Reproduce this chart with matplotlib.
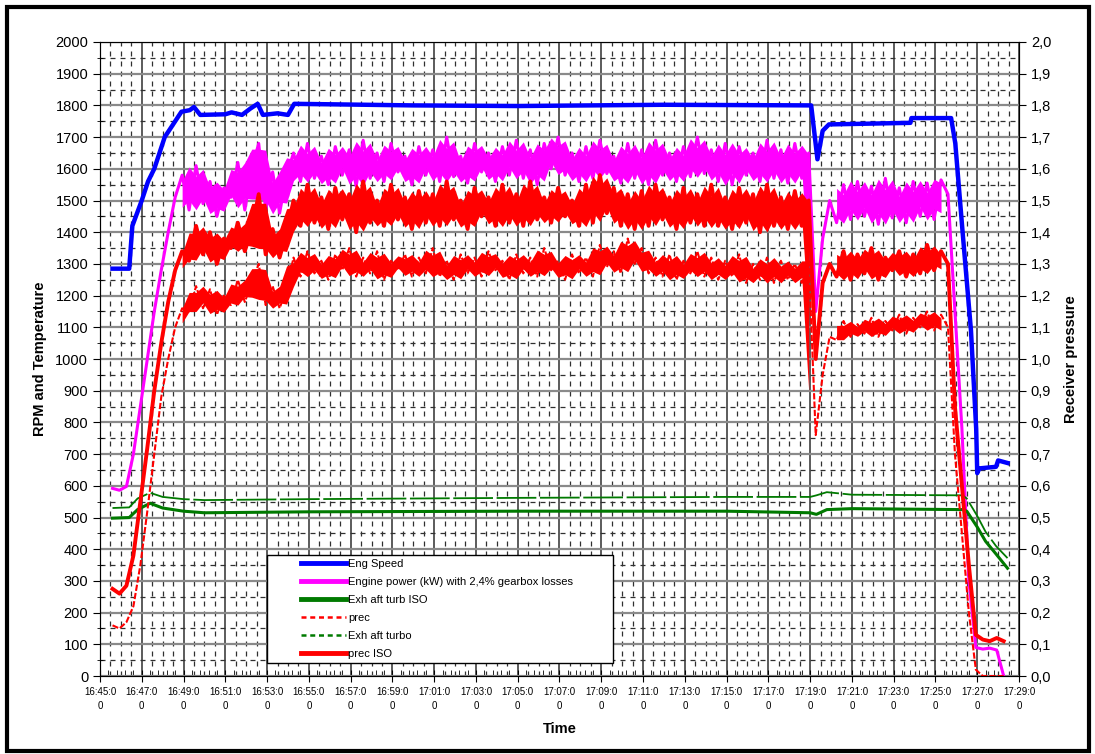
import numpy as np
import matplotlib
matplotlib.use('Agg')
import matplotlib.pyplot as plt
from matplotlib.lines import Line2D
from matplotlib.legend_handler import HandlerLine2D
from matplotlib.patches import Rectangle

plt.rcParams['font.family'] = ['Liberation Sans', 'DejaVu Sans']

# time axis: minutes after 16:45:00
tick_labels = ['16:45:0\n0', '16:47:0\n0', '16:49:0\n0', '16:51:0\n0', '16:53:0\n0',
               '16:55:0\n0', '16:57:0\n0', '16:59:0\n0', '17:01:0\n0', '17:03:0\n0',
               '17:05:0\n0', '17:07:0\n0', '17:09:0\n0', '17:11:0\n0', '17:13:0\n0',
               '17:15:0\n0', '17:17:0\n0', '17:19:0\n0', '17:21:0\n0', '17:23:0\n0',
               '17:25:0\n0', '17:27:0\n0', '17:29:0\n0']
press_labels = ['0,0', '0,1', '0,2', '0,3', '0,4', '0,5', '0,6', '0,7', '0,8', '0,9', '1,0',
                '1,1', '1,2', '1,3', '1,4', '1,5', '1,6', '1,7', '1,8', '1,9', '2,0']

# Eng Speed (rpm)
t_speed = [0.6, 1.4, 1.55, 2.0, 2.3, 2.6, 3.1, 3.3, 3.9, 4.3,
           4.5, 4.8, 6.0, 6.3, 6.8, 7.2, 7.55, 7.8, 8.5, 9.0,
           9.3, 15.0, 20.0, 27.0, 34.05, 34.35, 34.6, 34.9, 38.8, 38.85,
           40.75, 40.95, 41.3, 41.7, 41.95, 42.0, 42.1, 42.9, 43.0, 43.45]
eng_speed = [1285, 1285, 1420, 1500, 1560, 1600, 1700, 1720, 1780, 1785,
             1795, 1770, 1772, 1778, 1770, 1790, 1805, 1770, 1775, 1770,
             1805, 1800, 1798, 1802, 1800, 1630, 1720, 1740, 1745, 1760,
             1760, 1680, 1400, 1090, 780, 640, 655, 660, 680, 672]

# exhaust temperatures
t_exh = [0.6, 1.4, 1.8, 2.4, 3.0, 4.0, 5.0, 10.0, 20.0, 30.0,
         34.0, 34.3, 34.8, 36.0, 41.3, 41.5, 42.0, 42.4, 42.9, 43.45]
exh_iso = [498, 500, 525, 545, 530, 520, 515, 518, 520, 520,
           515, 510, 525, 528, 525, 520, 470, 425, 385, 340]
exh_turbo = [530, 532, 560, 578, 565, 558, 555, 558, 562, 565,
             565, 570, 580, 572, 570, 560, 505, 455, 410, 372]

# logged signals, one sample every 20 s from 16:45:36
t_log = 0.6 + np.arange(129) / 3

eng_power = [592, 586, 598,
             700, 850, 1000, 1150, 1280, 1400, 1510, 1580,
             1470, 1610, 1490, 1560, 1450, 1540, 1510, 1620, 1470, 1600,
             1680, 1470, 1590, 1460, 1580,
             1650, 1560, 1680, 1570, 1640, 1550, 1670, 1580, 1660, 1545,
             1690, 1570, 1650, 1560, 1680, 1590, 1640, 1550, 1670, 1580,
             1660, 1560, 1700, 1575, 1640, 1555, 1680, 1590, 1650, 1560,
             1670, 1580, 1690, 1570, 1660, 1550, 1680, 1600, 1700, 1580,
             1650, 1560, 1670, 1570, 1690, 1585, 1640, 1555, 1680, 1570,
             1660, 1550, 1690, 1580, 1650, 1560, 1670, 1575, 1700, 1585,
             1660, 1560, 1680, 1550, 1670, 1580, 1650, 1560, 1690, 1570,
             1660, 1555, 1680, 1570, 1650,
             1150, 1380, 1500,
             1430, 1550, 1440, 1560, 1450, 1545, 1425, 1570,
             1445, 1540, 1430, 1560, 1450, 1555, 1440, 1565,
             1520, 1150, 780, 300, 90, 85, 88, 82, 0]

prec_iso = [0.275, 0.26, 0.285,
            0.38, 0.55, 0.72, 0.90, 1.05, 1.18, 1.28, 1.34,
            1.31, 1.42, 1.33, 1.40, 1.30, 1.38, 1.35, 1.43, 1.34, 1.41,
            1.52, 1.33, 1.41, 1.32, 1.40,
            1.50, 1.42, 1.55, 1.43, 1.51, 1.41, 1.54, 1.44, 1.52, 1.40,
            1.56, 1.43, 1.50, 1.42, 1.55, 1.44, 1.51, 1.41, 1.53, 1.43,
            1.52, 1.42, 1.56, 1.44, 1.50, 1.41, 1.54, 1.45, 1.51, 1.42,
            1.55, 1.43, 1.52, 1.42, 1.56, 1.44, 1.51, 1.43, 1.54, 1.45,
            1.50, 1.42, 1.55, 1.43, 1.58, 1.46, 1.54, 1.42, 1.52, 1.41,
            1.53, 1.42, 1.55, 1.44, 1.51, 1.41, 1.54, 1.43, 1.52, 1.42,
            1.55, 1.42, 1.51, 1.41, 1.54, 1.43, 1.52, 1.40, 1.55, 1.42,
            1.51, 1.41, 1.53, 1.42, 1.50,
            1.00, 1.24, 1.30,
            1.26, 1.34, 1.25, 1.33, 1.27, 1.35, 1.25, 1.32,
            1.28, 1.34, 1.26, 1.33, 1.27, 1.36, 1.28, 1.34,
            1.30, 0.85, 0.60, 0.35, 0.13, 0.115, 0.11, 0.12, 0.11]

prec = [0.16, 0.15, 0.17,
        0.22, 0.35, 0.52, 0.70, 0.88, 1.00, 1.10, 1.16,
        1.15, 1.23, 1.16, 1.22, 1.14, 1.20, 1.17, 1.25, 1.18, 1.24,
        1.30, 1.17, 1.23, 1.16, 1.22,
        1.32, 1.26, 1.34, 1.27, 1.31, 1.25, 1.33, 1.28, 1.35, 1.26,
        1.32, 1.27, 1.34, 1.25, 1.31, 1.28, 1.33, 1.26, 1.32, 1.27,
        1.35, 1.26, 1.31, 1.25, 1.33, 1.27, 1.32, 1.26, 1.34, 1.28,
        1.31, 1.25, 1.33, 1.27, 1.32, 1.26, 1.35, 1.28, 1.31, 1.25,
        1.33, 1.27, 1.32, 1.26, 1.36, 1.29, 1.34, 1.27, 1.38, 1.30,
        1.35, 1.27, 1.32, 1.26, 1.33, 1.25, 1.31, 1.27, 1.34, 1.26,
        1.32, 1.25, 1.31, 1.26, 1.33, 1.24, 1.30, 1.25, 1.32, 1.24,
        1.31, 1.25, 1.30, 1.24, 1.31,
        0.76, 0.95, 1.07,
        1.06, 1.12, 1.07, 1.11, 1.08, 1.13, 1.07, 1.12,
        1.09, 1.14, 1.08, 1.13, 1.10, 1.15, 1.09, 1.14,
        1.10, 0.70, 0.45, 0.20, 0.02, 0.0, 0.0, 0.0, 0.0]

# sample ranges where the logged signals are steady noise bands
steady = [(10, 100), (104, 119)]

legend_labels = ['Eng Speed', 'Engine power (kW) with 2,4% gearbox losses', 'Exh aft turb ISO',
                 'prec', 'Exh aft turbo', 'prec ISO']

BLUE, MAG, GREEN, RED = '#0000FF', '#FF00FF', '#007A00', '#FF0000'


def noise_band(axis, t, s, color, z, frac=0.75):
    # solid core of the noise band, the sampled line's peaks stick out of it
    s = np.asarray(s, float)
    sp = np.pad(s, 1, mode='edge')
    win = np.array([sp[:-2], sp[1:-1], sp[2:]])
    mid = win.mean(axis=0)
    half = (win.max(axis=0) - win.min(axis=0)) / 2 * frac
    for a, b in steady:
        axis.fill_between(t[a:b + 1], mid[a:b + 1] - half[a:b + 1], mid[a:b + 1] + half[a:b + 1],
                          color=color, lw=0, zorder=z)


fig = plt.figure(figsize=(10.95, 7.54), dpi=100)
ax = fig.add_axes([0.0913, 0.1034, 0.8393, 0.8409])
ax2 = ax.twinx()

ax.set_xlim(0, 44)
ax.set_ylim(0, 2000)
ax2.set_ylim(0, 2.0)

ax.set_xticks(np.arange(0, 45, 2))
ax.set_xticklabels(tick_labels, fontsize=7, linespacing=1.45)
ax.set_xticks(np.arange(0, 44.01, 0.4), minor=True)
ax.set_yticks(np.arange(0, 2001, 100))
ax.set_yticks(np.arange(50, 2000, 100), minor=True)
ax.tick_params(axis='y', which='major', labelsize=10.5, direction='out', length=5)
ax.tick_params(axis='y', which='minor', direction='inout', length=5)
ax.tick_params(axis='x', which='major', direction='inout', length=8, pad=4)
ax.tick_params(axis='x', which='minor', direction='in', length=4)

ax2.set_yticks(np.arange(0, 2.01, 0.1))
ax2.set_yticklabels(press_labels, fontsize=10.5)
ax2.tick_params(axis='y', direction='out', length=5)

# grid
ax.set_axisbelow(True)
ax.grid(which='major', axis='x', color='#404040', lw=1.2)
ax.grid(which='major', axis='y', color='#8a8a8a', lw=1.6)
ax.grid(which='minor', axis='y', color='#303030', lw=0.9, ls=(0, (4, 4)))
dash_x = [v for v in np.arange(0.5, 44, 0.5) if v % 2 != 0]
ax.vlines(dash_x, 0, 2000, colors='#303030', lw=0.9, linestyles=(0, (4, 4)), zorder=0.5)

for sp in ax.spines.values():
    sp.set_color('#404040')

ax.plot(t_speed, eng_speed, color=BLUE, lw=3.2, zorder=3)
noise_band(ax, t_log, eng_power, MAG, 2)
ax.plot(t_log, eng_power, color=MAG, lw=2.2, zorder=2)
ax.plot(t_exh, exh_iso, color=GREEN, lw=2.2, zorder=2)
ax.plot(t_exh, exh_turbo, color=GREEN, lw=1.3, ls=(0, (22, 2)), zorder=2)
noise_band(ax2, t_log, prec, RED, 2)
ax2.plot(t_log, prec, color=RED, lw=1.5, ls=(0, (3, 1)), zorder=2)
noise_band(ax2, t_log, prec_iso, RED, 2)
ax2.plot(t_log, prec_iso, color=RED, lw=2.8, zorder=2)

ax.set_xlabel('Time', fontsize=10.5, fontweight='bold', labelpad=8)
ax.set_ylabel('RPM and Temperature', fontsize=10.5, fontweight='bold', labelpad=6)
ax2.set_ylabel('Receiver pressure', fontsize=10.5, fontweight='bold', labelpad=9)


class PadHandler(HandlerLine2D):
    # Excel-style legend: blank gap before the short line sample
    def create_artists(self, legend, orig_handle, xdescent, ydescent, width, height, fontsize, trans):
        arts = super().create_artists(legend, orig_handle, xdescent, ydescent, width, height, fontsize, trans)
        for a in arts:
            xd = np.asarray(a.get_xdata(), float)
            if len(xd) >= 2:
                x0, x1 = xd.min(), xd.max()
                a.set_xdata(np.linspace(x0 + 0.4 * (x1 - x0), x1, len(xd)))
        return arts


handles = [Line2D([], [], color=BLUE, lw=3.5),
           Line2D([], [], color=MAG, lw=3.5),
           Line2D([], [], color=GREEN, lw=3.5),
           Line2D([], [], color=RED, lw=1.8, ls=(0, (2, 1.5))),
           Line2D([], [], color=GREEN, lw=1.8, ls=(0, (2, 1.5))),
           Line2D([], [], color=RED, lw=3.5)]
leg = ax2.legend(handles, legend_labels, loc='upper left', bbox_to_anchor=(0.1817, 0.0, 0.3765, 0.1909),
                 mode='expand', borderaxespad=0, fontsize=8, handlelength=6.8, handletextpad=0.15,
                 labelspacing=0.72, borderpad=0.35, fancybox=False, framealpha=1, edgecolor='black',
                 handler_map={Line2D: PadHandler()})
leg.set_zorder(10)
leg.get_frame().set_linewidth(1.0)

fig.patches.append(Rectangle((0.0064, 0.004), 0.988, 0.987, transform=fig.transFigure,
                             fill=False, ec='black', lw=3))

fig.savefig('out.png', dpi=100)
